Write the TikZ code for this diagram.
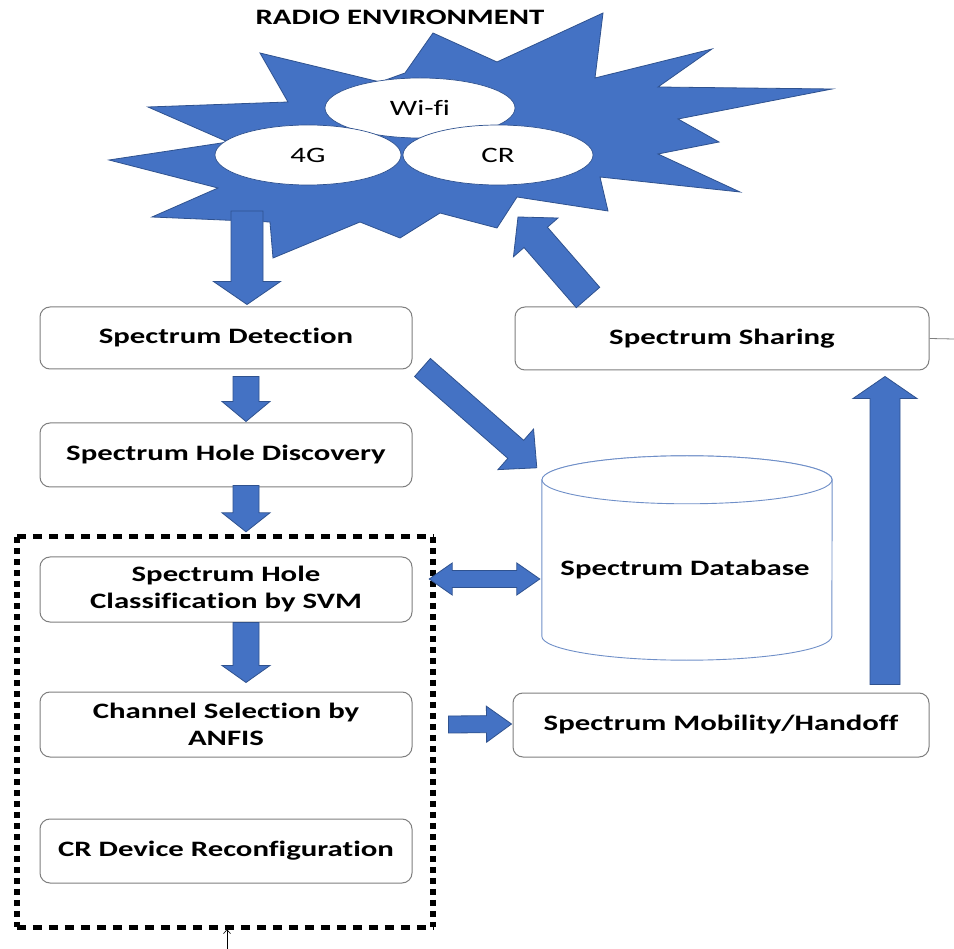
\documentclass[tikz,border=0pt]{standalone}
\usepackage{fontspec}
\setmainfont{Carlito}[FakeStretch=1.4,Ligatures={NoCommon,NoContextual}]
\usetikzlibrary{calc,arrows.meta,shapes.geometric}
\definecolor{fillblue}{HTML}{4472C4}
\definecolor{edgeblue}{HTML}{2F528F}
\definecolor{boxgray}{HTML}{7F7F7F}
\definecolor{cylblue}{HTML}{6F8FC8}
% #1 tail, #2 tip, #3 half shaft, #4 half head, #5 head length
\newcommand{\fatarrow}[5]{%
  \coordinate (fan) at ($(#2)!#5!(#1)$);
  \draw[blockarrow] ($(#1)!#3!90:(#2)$) -- ($(fan)!#3!90:(#2)$) -- ($(fan)!#4!90:(#2)$)
    -- (#2) -- ($(fan)!#4!-90:(#2)$) -- ($(fan)!#3!-90:(#2)$) -- ($(#1)!#3!-90:(#2)$) -- cycle;}
\newcommand{\dblfatarrow}[5]{%
  \coordinate (fana) at ($(#1)!#5!(#2)$);
  \coordinate (fanb) at ($(#2)!#5!(#1)$);
  \draw[blockarrow] (#1) -- ($(fana)!#4!90:(#2)$) -- ($(fana)!#3!90:(#2)$) -- ($(fanb)!#3!90:(#2)$)
    -- ($(fanb)!#4!90:(#2)$) -- (#2) -- ($(fanb)!#4!-90:(#2)$) -- ($(fanb)!#3!-90:(#2)$)
    -- ($(fana)!#3!-90:(#2)$) -- ($(fana)!#4!-90:(#2)$) -- cycle;}
\begin{document}
\begin{tikzpicture}[x=1pt,y=-1pt,
  blockarrow/.style={fill=fillblue,draw=edgeblue,line width=0.8pt,line join=miter},
  procbox/.style={draw=boxgray,line width=1pt,rounded corners=10pt,fill=white,
    minimum width=372pt,minimum height=62pt,align=center,inner sep=0pt,
    font=\fontsize{22}{27}\selectfont\bfseries},
  bubble/.style={ellipse,draw=edgeblue,line width=0.7pt,fill=white,inner sep=0pt,
    minimum width=190pt,minimum height=60pt,font=\fontsize{22}{27}\selectfont},
  cyl/.style={draw=cylblue,line width=0.9pt,fill=white},
  hdash/.style={line width=5pt,dash pattern=on 9pt off 7pt},
  vdash/.style={line width=5.5pt,dash pattern=on 6pt off 5pt}]
\useasboundingbox (0,0) rectangle (954,949);
\fill[white] (0,0) rectangle (954,949);

% radio environment starburst
\filldraw[fill=fillblue,draw=edgeblue,line width=0.8pt,line join=miter]
  (260,53) -- (380,82) -- (405,73) -- (433,33) -- (497,62) -- (603,13) -- (595,78)
  -- (712,49) -- (658,87) -- (832,89) -- (678,119) -- (719,142) -- (658,154)
  -- (740,192) -- (600,177) -- (608,211) -- (517,197) -- (497,228) -- (440,213)
  -- (400,238) -- (360,222) -- (273,258) -- (270,222) -- (152,217) -- (218,188)
  -- (109,160) -- (228,142) -- (148,107) -- (288,102) -- cycle;
\node[font=\fontsize{22}{27}\selectfont\bfseries] (env) at (400,17) {RADIO ENVIRONMENT};
\node[bubble] (wifi) at (420,108) {Wi-fi};
\node[bubble,minimum width=186pt] (g4) at (308,155) {4G};
\node[bubble] (cr) at (498,155) {CR};
\coordinate (starout) at (247,211);
\coordinate (starin) at (518,217);

% process boxes
\node[procbox] (det) at (226,338) {Spectrum Detection};
\node[procbox,minimum height=64pt] (disc) at (226,455) {Spectrum Hole Discovery};
\node[procbox,minimum height=65pt] (cls) at (226,589.5) {Spectrum Hole\\Classification by SVM};
\node[procbox,minimum height=65pt] (chan) at (226,724.5) {Channel Selection by\\ANFIS};
\node[procbox,minimum height=64pt] (crd) at (226,851) {CR Device Reconfiguration};
\node[procbox,minimum width=414pt,minimum height=63pt] (share) at (722,338.5) {Spectrum Sharing};
\node[procbox,minimum width=416pt,minimum height=64pt] (mob) at (721,725) {Spectrum Mobility/Handoff};

% spectrum database cylinder
\node[minimum width=290pt,minimum height=204pt,inner sep=0pt] (db) at (687,558) {};
\filldraw[cyl] ($(db.north west)+(0,24)$) -- ($(db.south west)+(0,-24)$)
  arc[start angle=180,end angle=360,x radius=145pt,y radius=24pt]
  -- ($(db.north east)+(0,24)$)
  arc[start angle=0,end angle=180,x radius=145pt,y radius=24pt] -- cycle;
\draw[cyl] ($(db.north)+(0,24)$) ellipse[x radius=145pt,y radius=24pt];
\node[font=\fontsize{22}{27}\selectfont\bfseries] (dbl) at (685,570) {Spectrum Database};

% dotted group
\node[minimum width=416pt,minimum height=390pt,inner sep=0pt] (grp) at (225,732) {};
\draw[hdash] (grp.north west) -- (grp.north east);
\draw[hdash] (grp.south west) -- (grp.south east);
\draw[vdash] (grp.north west) -- (grp.south west);
\draw[vdash] (grp.north east) -- (grp.south east);

% block arrows
\fatarrow{starout}{$(det.north)+(21,-2)$}{16pt}{33.5pt}{23pt}
\fatarrow{$(det.south)+(20,7)$}{$(disc.north)+(20,-1)$}{13pt}{24pt}{20pt}
\fatarrow{$(disc.south)+(20,-2)$}{$(grp.north)+(21,-5)$}{13pt}{24pt}{19pt}
\fatarrow{$(cls.south)+(20,0)$}{$(chan.north)+(20,-9)$}{13pt}{24pt}{17pt}
\fatarrow{$(det.south east)+(10,-2)$}{$(db.north west)+(-5,12)$}{12pt}{27pt}{28pt}
\fatarrow{$(mob.north)+(164,-8)$}{$(share.south)+(163,6)$}{15pt}{32pt}{22pt}
\fatarrow{$(share.north)+(-134,-9)$}{starin}{15.5pt}{29.5pt}{27pt}
\fatarrow{$(chan.east)+(36,0)$}{$(mob.west)+(-1,-1)$}{8.5pt}{18pt}{25pt}
\dblfatarrow{$(grp.east)+(-4,-153)$}{$(db.west)+(-2,21)$}{8.5pt}{16pt}{23pt}

% thin connectors
\coordinate (rim) at (954,339);
\draw[boxgray,line width=0.8pt] (share.east) -- (rim);
\coordinate (foot) at (227,949);
\draw[line width=0.6pt,-{Straight Barb[length=4pt,width=7pt]}] (foot) -- ($(grp.south)+(2,2)$);
\end{tikzpicture}
\end{document}
